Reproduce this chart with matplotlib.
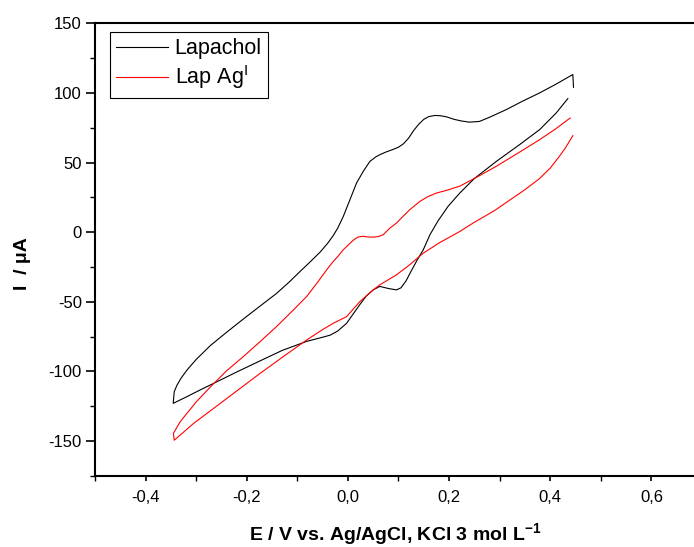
#!/usr/bin/env python3

import matplotlib
matplotlib.use('Agg')
import matplotlib.pyplot as plt
from matplotlib.ticker import MultipleLocator, FuncFormatter


#------------------------------------------------------------------------------
# Data, E in V, I in uA
#------------------------------------------------------------------------------

# Lapachol: upper branch right -> left, then lower branch left -> right
lap_E = [0.446, 0.4447, 0.41, 0.379, 0.345, 0.313, 0.28, 0.26, 0.24, 0.225,
         0.21, 0.195, 0.183, 0.172, 0.16, 0.15, 0.14, 0.13, 0.12, 0.11,
         0.1, 0.09, 0.075, 0.063, 0.055, 0.0434, 0.0303, 0.0171, 0.0039,
         -0.0092, -0.02, -0.029, -0.04, -0.0553, -0.075, -0.0947, -0.115,
         -0.141, -0.175, -0.207, -0.24, -0.272, -0.3, -0.318, -0.33, -0.338,
         -0.3434, -0.3454,
         -0.32, -0.29, -0.259, -0.22, -0.1737, -0.13, -0.0816, -0.05, -0.035,
         -0.02, -0.0026, 0.01, 0.0237, 0.0362, 0.05, 0.063, 0.08, 0.096, 0.105,
         0.115, 0.125, 0.137, 0.149, 0.162, 0.178, 0.198, 0.221, 0.25, 0.2934,
         0.34, 0.379, 0.4118, 0.4348]
lap_I = [104, 113.2, 106, 100, 94, 88, 82.5, 79.5, 79, 79.8,
         81, 82.8, 83.6, 83.8, 83, 81, 77.5, 73, 67.5, 63.5,
         61, 59.5, 57.5, 55.6, 54, 50.8, 43.6, 35.3, 23.2,
         11.2, 3, -2.5, -8, -14.5, -21.5, -28.3, -35.5,
         -44, -53.5, -62.5, -72, -81.5, -91.5, -99, -105, -110,
         -114.7, -123,
         -118.5, -113, -107.5, -100.5, -92.5, -85, -78.5, -75.5, -74,
         -71, -65.5, -59, -52, -46, -41.5, -39, -40.5, -41.5, -40,
         -35, -28, -20, -12.7, -2, 8, 18.5, 28, 38.5, 50.8,
         63, 73.6, 85.6, 95.9]

# Lap Ag(I): upper branch right -> left, then lower branch left -> right
ag_E = [0.4395, 0.41, 0.379, 0.335, 0.293, 0.255, 0.221, 0.195, 0.1745,
        0.158, 0.142, 0.122, 0.108, 0.096, 0.083, 0.0697, 0.06, 0.05, 0.04,
        0.03, 0.02, 0.01, 0.0, -0.0092, -0.02, -0.03, -0.042, -0.06, -0.0816,
        -0.108, -0.14, -0.1737, -0.2055, -0.2395, -0.27, -0.30, -0.3316,
        -0.345, -0.3434,
        -0.305, -0.2395, -0.1737, -0.13, -0.0816, -0.05, -0.029, -0.0026,
        0.0237, 0.05, 0.063, 0.096, 0.122, 0.149, 0.1816, 0.221, 0.2474,
        0.29, 0.326, 0.35, 0.379, 0.40, 0.418, 0.43, 0.4447]
ag_I = [82, 74, 66.4, 56.5, 47.2, 39.5, 33, 30, 28,
        25.5, 22, 16, 11, 6.5, 2.9, -1.9, -3.2, -3.6, -3.5,
        -3.0, -3.5, -6, -9.5, -12.7, -17.5, -21.5, -27.1, -36, -46.3,
        -56, -67.5, -78.7, -89, -99.5, -110.5, -122, -136.2,
        -144.6, -149.5,
        -137.4, -119.5, -101.5, -90, -77.5, -70, -65.5, -60.7,
        -49.9, -41.5, -37.9, -30.7, -23.5, -15.1, -7.5, 0.4, 6.5,
        15.5, 24.5, 30.5, 38.5, 46, 54.4, 60.5, 69.3]

series_labels = ['Lapachol', 'Lap Ag$^\\mathrm{I}$']
series_colors = ['black', 'red']


#------------------------------------------------------------------------------
# Plot
#------------------------------------------------------------------------------

plt.rcParams['font.family'] = ['Liberation Sans', 'DejaVu Sans']
plt.rcParams['mathtext.fontset'] = 'custom'
plt.rcParams['mathtext.rm'] = 'Liberation Sans'
plt.rcParams['mathtext.bf'] = 'Liberation Sans:bold'


def comma_fmt(x, pos):
    return '{:.1f}'.format(x).replace('.', ',').replace('-0,0', '0,0')


fig = plt.figure(figsize=(6.94, 5.47), dpi=100)
ax = fig.add_axes([0.1369, 0.1303, 0.8746, 0.8271])

ax.plot(lap_E, lap_I, color=series_colors[0], lw=0.8, label=series_labels[0])
ax.plot(ag_E, ag_I, color=series_colors[1], lw=0.8, label=series_labels[1])

ax.set_xlim(-0.5, 0.7)
ax.set_ylim(-175, 150)

ax.xaxis.set_major_locator(MultipleLocator(0.2))
ax.xaxis.set_minor_locator(MultipleLocator(0.1))
ax.yaxis.set_major_locator(MultipleLocator(50))
ax.yaxis.set_minor_locator(MultipleLocator(25))
ax.xaxis.set_major_formatter(FuncFormatter(comma_fmt))
ax.yaxis.set_major_formatter(FuncFormatter(lambda y, p: '{:d}'.format(int(round(y)))))

ax.tick_params(axis='x', which='major', direction='out', length=3.5, width=1.2,
               labelsize=12, pad=7)
ax.tick_params(axis='x', which='minor', direction='out', length=3.5, width=1.0)
ax.tick_params(axis='y', which='major', direction='out', length=6.5, width=1.2,
               labelsize=12, pad=3)
ax.tick_params(axis='y', which='minor', direction='out', length=3.5, width=1.0)

for side in ['left', 'bottom', 'top']:
    ax.spines[side].set_linewidth(1.5)
ax.spines['right'].set_visible(False)

ax.set_xlabel('E / V vs. Ag/AgCl, KCl 3 mol L$^{\\mathbf{-1}}$',
              fontsize=14, fontweight='bold')
ax.xaxis.set_label_coords(0.495, -0.101)
ax.set_ylabel('I  / μA', fontsize=14, fontweight='bold')
ax.yaxis.set_label_coords(-0.105, 0.47)

leg = ax.legend(loc='upper left', bbox_to_anchor=(0.0247, 0.9814),
                borderaxespad=0, fontsize=15.5, fancybox=False, shadow=False,
                framealpha=1, edgecolor='black', handlelength=2.4,
                handletextpad=0.3, labelspacing=0.2, borderpad=0.3)
leg.get_frame().set_linewidth(0.8)

plt.savefig('out.png', dpi=100)
plt.close()
